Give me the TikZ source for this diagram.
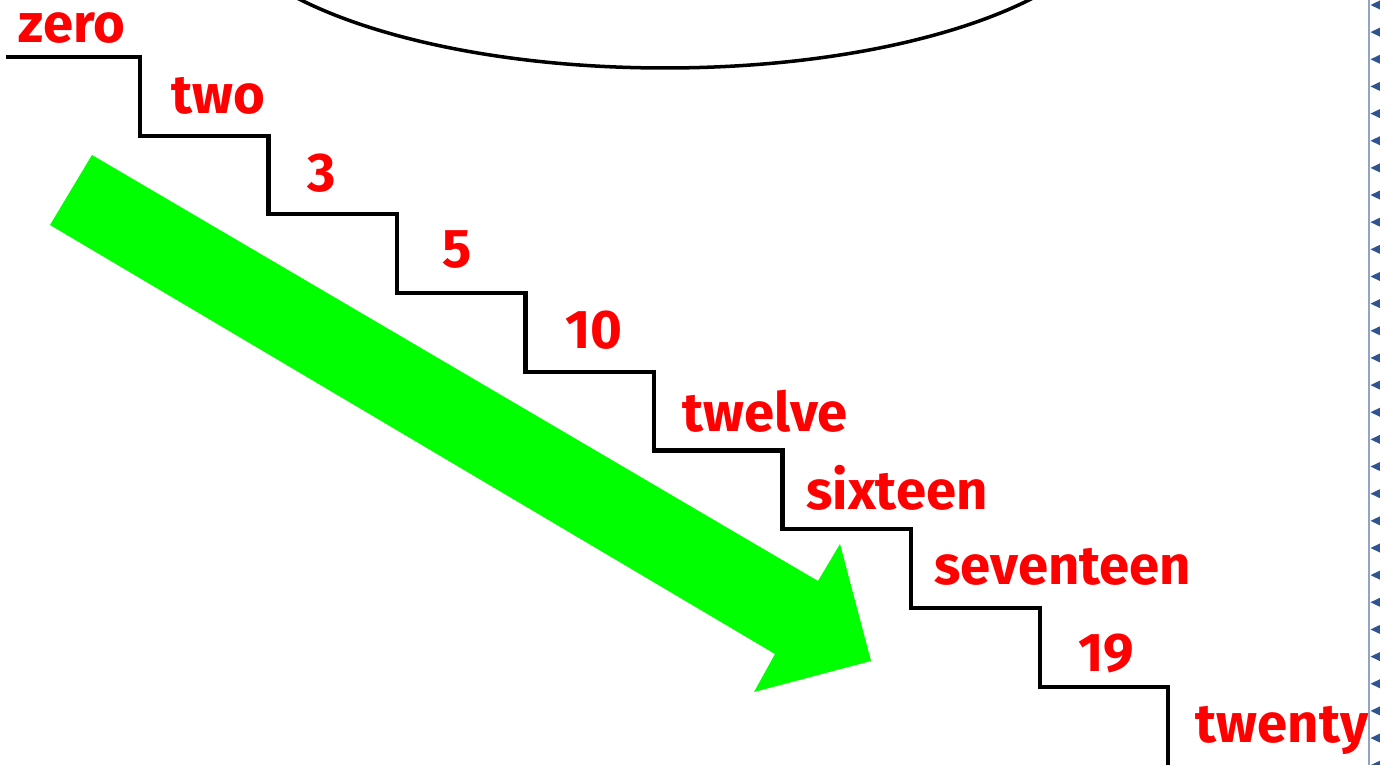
\documentclass[tikz,border=0pt]{standalone}
\usepackage{fontspec}
\setmainfont{Fira Sans}
\usetikzlibrary{calc}

\definecolor{stepred}{RGB}{255,0,0}
\definecolor{arrowgreen}{RGB}{0,255,0}
\definecolor{edgeblue}{RGB}{143,164,198}
\definecolor{tickblue}{RGB}{46,84,145}

\tikzset{
  stair/.style={line width=1.15pt, line cap=rect},
  steplabel/.style={anchor=base, text=stepred, font=\fontsize{15.5}{18}\selectfont\bfseries, inner sep=0pt}
}

\begin{document}
\begin{tikzpicture}[x=0.01cm, y=-0.01cm]
    \def\run{128.5} % tread width
    \def\rise{78.7} % riser height
    \useasboundingbox (0,0) rectangle (1380,765);

    % bottom of the bubble
    \draw[line width=1pt] (665,-100) ellipse (453 and 168);

    % stairs
    \coordinate (S0) at (8, 57);
    \foreach \i in {1,...,9} {
        \coordinate (T\i) at ({140+\run*(\i-1)}, {57+\rise*(\i-1)});
        \coordinate (B\i) at ({140+\run*(\i-1)}, {57+\rise*\i});
    }
    \draw[stair] (S0) foreach \i in {1,...,9} { -- (T\i) -- (B\i) };

    % labels on the treads
    \foreach \i/\t/\xc/\yb in {0/zero/72/43, 1/two/218/114, 2/3/322/192, 3/5/457/268,
        4/10/594/349, 5/twelve/765/432, 6/sixteen/897/510, 7/seventeen/1063/585,
        8/19/1106/672, 9/twenty/1282/742}
    \node[steplabel] (lbl\i) at (\xc, \yb) {\t};

    % big green arrow
    \fill[arrowgreen] (92,155) -- (818,581) -- (840,544) -- (871,661)
        -- (754,692) -- (775,654) -- (50,225) -- cycle;

    % page edge
    \draw[edgeblue, line width=0.6pt] (1369,0) -- (1369,765);
    \foreach \k in {0,...,28}
    \fill[tickblue] (1370.5, {5+27.15*\k}) -- (1382, {5+27.15*\k-5.5})
        -- (1382, {5+27.15*\k+5.5}) -- cycle;
\end{tikzpicture}
\end{document}
